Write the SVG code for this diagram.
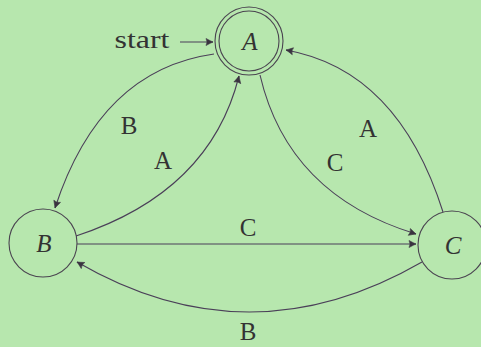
<svg xmlns="http://www.w3.org/2000/svg" width="481" height="347" viewBox="0 0 481 347">
<defs>
<style>
.node{fill:none;stroke:#4a4450;stroke-width:1.1}
.edge{fill:none;stroke:#4a3f58;stroke-width:1.1;marker-end:url(#arr)}
text{font-family:'Liberation Serif','DejaVu Serif','Times New Roman',serif;font-size:25px;fill:#333;text-anchor:middle}
.nl{font-style:italic}
</style>
<marker id="arr" viewBox="-8 -5 10 10" markerWidth="10" markerHeight="10" refX="0" refY="0" orient="auto" markerUnits="userSpaceOnUse">
<path d="M-7,-3.5 Q-2,-0.8 0,0 Q-2,0.8 -7,3.5 Q-5,0 -7,-3.5 Z" fill="#3a3340" stroke="#3a3340" stroke-width="0.6" stroke-linejoin="round"/>
</marker>
</defs>
<rect width="481" height="347" fill="#b7e7ae"/>
<g id="nodeA">
<circle class="node" cx="249" cy="41" r="34"/>
<circle class="node" cx="249" cy="41" r="30"/>
<text class="nl" x="250" y="50" font-family="Liberation Serif, serif">A</text>
</g>
<g id="nodeB">
<circle class="node" cx="43" cy="243" r="34"/>
<text class="nl" x="44" y="252" font-family="Liberation Serif, serif">B</text>
</g>
<g id="nodeC">
<circle class="node" cx="452" cy="245" r="34"/>
<text class="nl" x="453" y="254" font-family="Liberation Serif, serif">C</text>
</g>
<g id="connectors">
<text x="142" y="48" textLength="55" lengthAdjust="spacingAndGlyphs" font-family="Liberation Serif, serif">start</text>
<path class="edge" d="M180,42 L213,42"/>
<path class="edge" d="M214,54 Q100,70 55,208"/>
<text x="129" y="134" font-family="Liberation Serif, serif">B</text>
<path class="edge" d="M76,236 Q210,192 239,76"/>
<text x="163" y="169" font-family="Liberation Serif, serif">A</text>
<path class="edge" d="M260,75 Q288,195 416,234"/>
<text x="335" y="171" font-family="Liberation Serif, serif">C</text>
<path class="edge" d="M443,212 Q398,70 286,50"/>
<text x="368" y="137" font-family="Liberation Serif, serif">A</text>
<path class="edge" d="M77,244 L416,244"/>
<text x="248" y="236" font-family="Liberation Serif, serif">C</text>
<path class="edge" d="M422,262 Q249,362 77,262"/>
<text x="248" y="340" font-family="Liberation Serif, serif">B</text>
</g>
</svg>
